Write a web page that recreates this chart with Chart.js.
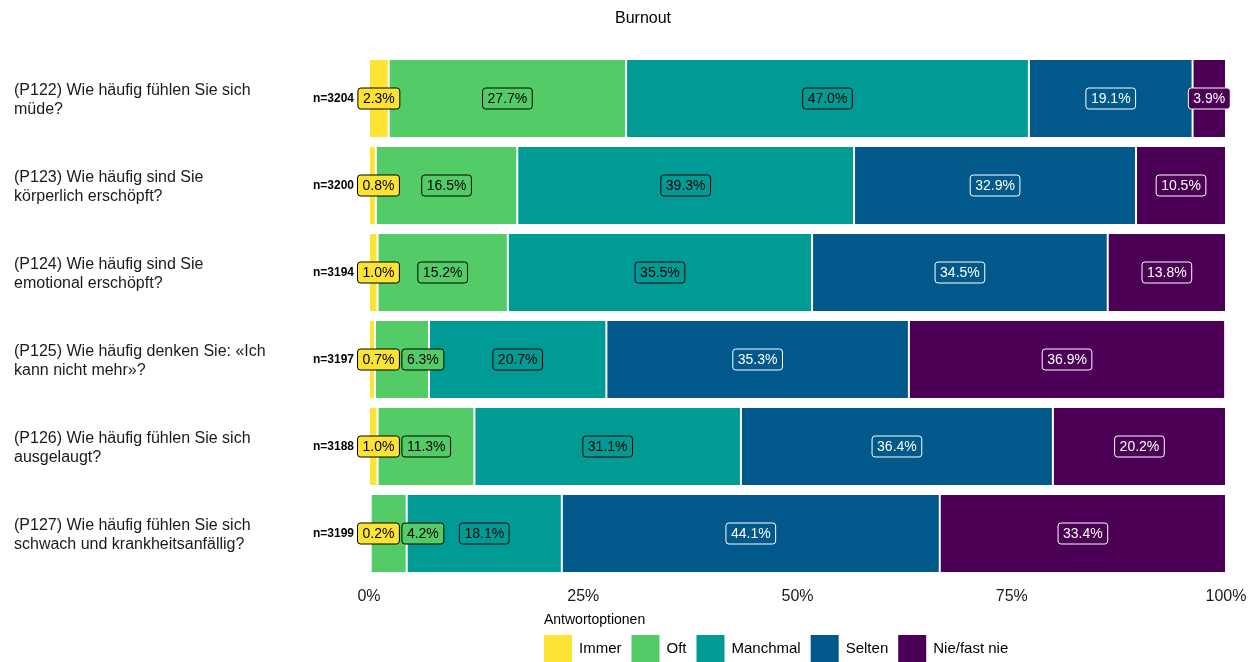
<!DOCTYPE html>
<html>
<head>
<meta charset="utf-8">
<title>Burnout</title>
<script src="https://cdn.jsdelivr.net/npm/chart.js@4/dist/chart.umd.min.js"></script>
<style>
  html, body { margin: 0; padding: 0; background: #ffffff; }
  #wrap { width: 1258px; height: 662px; position: relative; }
</style>
</head>
<body>
<div id="wrap"><canvas id="chart" width="1258" height="662"></canvas></div>
<script>
// Survey items (question text split into display lines)
const questions = [
  ["(P122) Wie häufig fühlen Sie sich", "müde?"],
  ["(P123) Wie häufig sind Sie", "körperlich erschöpft?"],
  ["(P124) Wie häufig sind Sie", "emotional erschöpft?"],
  ["(P125) Wie häufig denken Sie: «Ich", "kann nicht mehr»?"],
  ["(P126) Wie häufig fühlen Sie sich", "ausgelaugt?"],
  ["(P127) Wie häufig fühlen Sie sich", "schwach und krankheitsanfällig?"]
];
const sampleSizes = [3204, 3200, 3194, 3197, 3188, 3199];

// Response options and their shares in percent
const options = ["Immer", "Oft", "Manchmal", "Selten", "Nie/fast nie"];
const immer    = [2.3, 0.8, 1.0, 0.7, 1.0, 0.2];
const oft      = [27.7, 16.5, 15.2, 6.3, 11.3, 4.2];
const manchmal = [47.0, 39.3, 35.5, 20.7, 31.1, 18.1];
const selten   = [19.1, 32.9, 34.5, 35.3, 36.4, 44.1];
const nie      = [3.9, 10.5, 13.8, 36.9, 20.2, 33.4];
const xTicks   = [0, 25, 50, 75, 100];

const colors = ["#FDE333", "#53CC67", "#009B95", "#00588B", "#4B0055"];
const labelText = ["#000000", "#000000", "#000000", "#ffffff", "#ffffff"];
const FONT = "'Liberation Sans', Arial, Helvetica, sans-serif";

const series = [immer, oft, manchmal, selten, nie];
const datasets = series.map((vals, k) => ({
  label: options[k],
  data: vals,
  backgroundColor: colors[k],
  borderColor: "#ffffff",
  borderWidth: { left: 1, right: 1, top: 0, bottom: 0 },
  borderSkipped: false,
  categoryPercentage: 1.0,
  barPercentage: 0.885
}));

// Title, segment value boxes, sample sizes and the legend
const decorations = {
  id: "decorations",
  afterDatasetsDraw(chart) {
    const ctx = chart.ctx;
    const xs = chart.scales.x;
    ctx.save();

    // title
    ctx.font = "16px " + FONT;
    ctx.fillStyle = "#000000";
    ctx.textAlign = "center";
    ctx.textBaseline = "middle";
    ctx.fillText("Burnout", 643, 19);

    // value labels per row, nudged right when they would overlap
    ctx.font = "14px " + FONT;
    const padX = 5.5, boxH = 22, gap = 1.5;
    const minLeft = xs.left - 12;
    questions.forEach((q, i) => {
      let prevRight = minLeft - gap;
      const y = chart.getDatasetMeta(0).data[i].y;
      for (let k = 0; k < series.length; k++) {
        const bar = chart.getDatasetMeta(k).data[i];
        const txt = series[k][i].toFixed(1) + "%";
        const w = ctx.measureText(txt).width + padX * 2;
        let cx = (bar.x + bar.base) / 2;
        if (cx - w / 2 < prevRight + gap) cx = prevRight + gap + w / 2;
        prevRight = cx + w / 2;
        const bx = cx - w / 2, by = y - boxH / 2;
        ctx.beginPath();
        ctx.roundRect(bx + 0.5, by + 0.5, w - 1, boxH - 1, 3);
        ctx.fillStyle = colors[k];
        ctx.fill();
        ctx.lineWidth = 1;
        ctx.strokeStyle = labelText[k];
        ctx.stroke();
        ctx.fillStyle = labelText[k];
        ctx.textAlign = "center";
        ctx.textBaseline = "middle";
        ctx.fillText(txt, cx, y + 0.5);
      }
      // sample size
      ctx.font = "bold 12px " + FONT;
      ctx.fillStyle = "#000000";
      ctx.textAlign = "right";
      ctx.fillText("n=" + sampleSizes[i], 354, y + 0.5);
      ctx.font = "14px " + FONT;
    });

    // legend
    const lx = 544;
    ctx.font = "14px " + FONT;
    ctx.fillStyle = "#000000";
    ctx.textAlign = "left";
    ctx.textBaseline = "middle";
    ctx.fillText("Antwortoptionen", lx, 620);
    ctx.font = "15px " + FONT;
    let x = lx;
    options.forEach((name, k) => {
      ctx.fillStyle = colors[k];
      ctx.fillRect(x, 635, 28, 27);
      ctx.fillStyle = "#000000";
      ctx.fillText(name, x + 35, 649);
      x += 35 + ctx.measureText(name).width + 10;
    });
    ctx.restore();
  }
};

new Chart(document.getElementById("chart"), {
  type: "bar",
  data: { labels: questions, datasets },
  options: {
    indexAxis: "y",
    responsive: false,
    animation: false,
    layout: { padding: { left: 14, right: 32, top: 55, bottom: 0 } },
    plugins: {
      legend: { display: false },
      tooltip: { enabled: false },
      title: { display: false }
    },
    scales: {
      x: {
        stacked: true,
        min: 0,
        max: 100,
        afterBuildTicks(scale) { scale.ticks = xTicks.map(v => ({ value: v })); },
        afterFit(scale) { scale.height = 85; },
        grid: { display: false, drawTicks: false },
        border: { display: false },
        ticks: {
          padding: 10,
          color: "#1a1a1a",
          font: { family: FONT, size: 16 },
          callback: v => v + "%"
        }
      },
      y: {
        stacked: true,
        afterFit(scale) { scale.width = 355; },
        grid: { display: false, drawTicks: false },
        border: { display: false },
        ticks: {
          crossAlign: "far",
          padding: 0,
          labelOffset: 1.5,
          color: "#1a1a1a",
          font: { family: FONT, size: 16, lineHeight: 1.2 }
        }
      }
    }
  },
  plugins: [decorations]
});
</script>
</body>
</html>
